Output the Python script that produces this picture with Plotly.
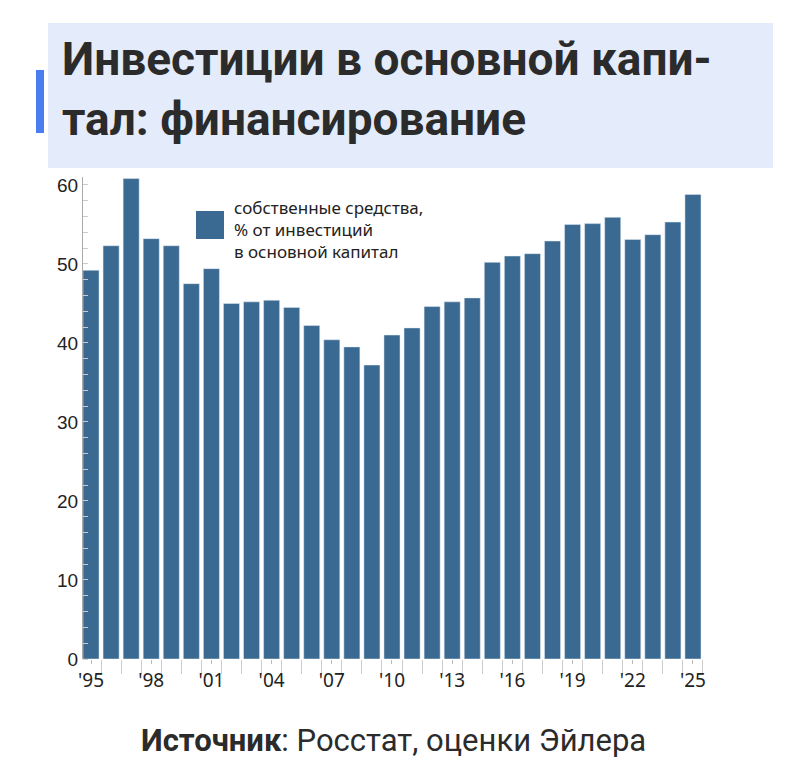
import plotly.graph_objects as go

years = list(range(1995, 2026))
values = [49.2, 52.3, 60.8, 53.2, 52.3, 47.5, 49.4, 45.0, 45.2, 45.4, 44.5, 42.2, 40.4, 39.5, 37.2,
          41.0, 41.9, 44.6, 45.2, 45.7, 50.2, 51.0, 51.3, 52.9, 55.0, 55.1, 55.9, 53.1, 53.7, 55.3, 58.8]
tick_years = list(range(1995, 2026, 3))
tick_labels = ["'%02d" % (y % 100) for y in tick_years]
series_name = "собственные средства,<br>% от инвестиций<br>в основной капитал"

W = 622.0
def px(x):
    return (x - 75) / W
H = 482.0
def py(y):
    return (651 - y) / H

fig = go.Figure(go.Bar(x=years, y=values, marker_color="#3a6a92", width=0.8, name=series_name,
                       showlegend=False))
fig.update_layout(
    width=800, height=782, paper_bgcolor="white", plot_bgcolor="white",
    margin=dict(l=75, r=103, t=169, b=131, autoexpand=False),
    font=dict(family="Liberation Sans", color="#222"),
    xaxis=dict(range=[1994.6, 2025.6], tickmode="array", tickvals=tick_years, ticktext=tick_labels,
               tickfont=dict(family="Noto Sans", size=19, color="#222"), showgrid=False, zeroline=False,
               ticks="outside", ticklen=4, tickcolor="#bbb",
               minor=dict(dtick=1, tick0=1995.5, ticks="outside", ticklen=14, tickcolor="#ccc")),
    yaxis=dict(range=[0, 61], tickvals=[0, 10, 20, 30, 40, 50, 60], showgrid=False, zeroline=False,
               showline=True, linecolor="#aaa", ticks="", tickfont=dict(size=19, color="#222"),
               minor=dict(dtick=2, ticks="inside", ticklen=5, tickcolor="#ccc")),
    shapes=[
        dict(type="rect", xref="paper", yref="paper", x0=px(40), x1=px(765), y0=py(160), y1=py(15),
             fillcolor="#e4ebfa", line_width=0, layer="below"),
        dict(type="rect", xref="paper", yref="paper", x0=px(28), x1=px(36), y0=py(125), y1=py(62),
             fillcolor="#4a7df0", line_width=0),
        dict(type="rect", xref="paper", yref="paper", x0=px(188), x1=px(216), y0=py(231), y1=py(203),
             fillcolor="#3a6a92", line_width=0),
    ],
    annotations=[
        dict(xref="paper", yref="paper", x=px(52), y=py(22), xanchor="left", yanchor="top", align="left",
             text="<b>Инвестиции в основной капи-<br>тал: финансирование</b>", showarrow=False,
             font=dict(family="Roboto", size=46, color="#2b2b2b")),
        dict(xref="paper", yref="paper", x=px(224), y=py(186), xanchor="left", yanchor="top", align="left",
             text=series_name, showarrow=False,
             font=dict(family="Noto Sans", size=17, color="#222")),
        dict(xref="paper", yref="paper", x=px(385), y=py(712), xanchor="center", yanchor="top",
             text="<b>Источник</b>: Росстат, оценки Эйлера", showarrow=False,
             font=dict(family="Roboto", size=31, color="#2b2b2b")),
    ],
)
fig.write_html("out.html")
